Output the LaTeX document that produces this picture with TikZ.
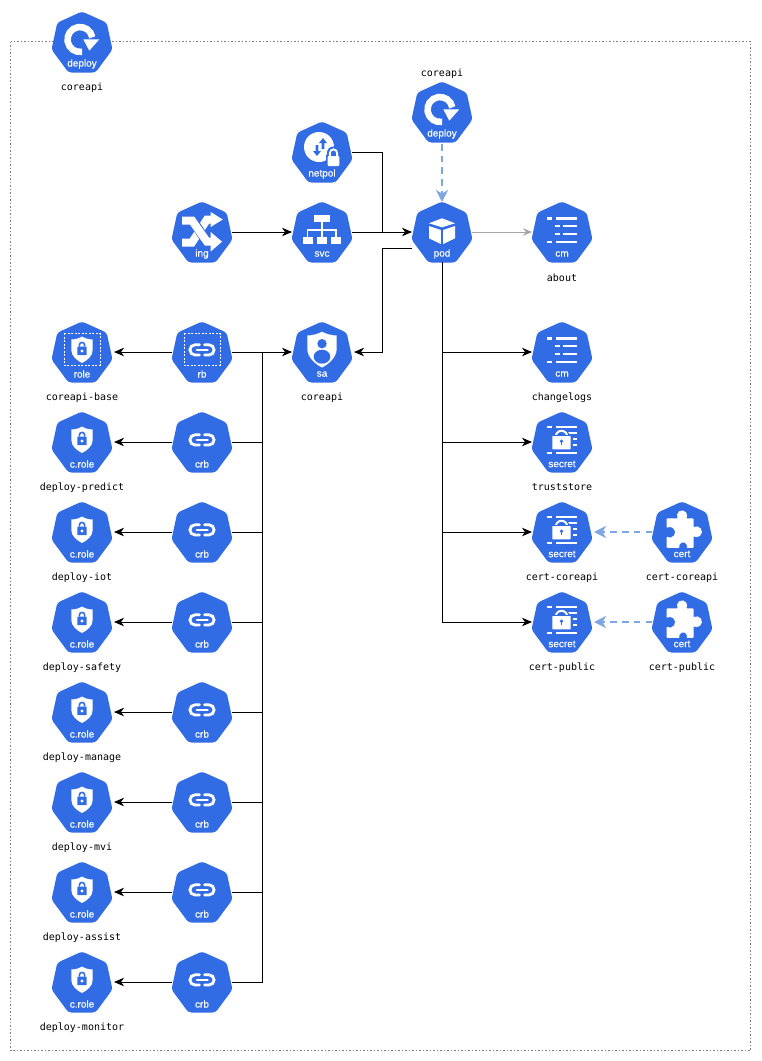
\documentclass[tikz,border=0pt]{standalone}
\usepackage{fontspec}
\setmainfont[FakeBold=0.25]{Liberation Sans}
\newfontfamily\lblfont{DejaVu Sans Mono}
\newfontfamily\kheavy[FakeBold=0.5]{Liberation Sans}
\usetikzlibrary{arrows.meta}
\definecolor{kblue}{HTML}{326CE5}
\definecolor{dashblue}{HTML}{7EA6E0}
\tikzset{
  kbase/.style={rectangle,minimum width=60pt,minimum height=60pt,inner sep=0pt,outer sep=0pt},
  klabel/.style={font=\lblfont\fontsize{10}{12}\selectfont,text=black,inner sep=0pt,yshift=-1.5pt},
  kicontext/.style={font=\fontsize{10}{12}\selectfont,text=white,inner sep=0pt},
  conn/.style={draw=black,line width=0.9pt,-{Stealth[length=10pt,width=8.5pt,inset=3pt]}},
  plainconn/.style={draw=black,line width=0.9pt},
  grayconn/.style={draw=gray!70,line width=0.9pt,-{Stealth[length=9pt,width=7.5pt,inset=3pt]}},
  dashconn/.style={draw=dashblue,line width=2pt,dash pattern=on 6.5pt off 5.2pt,-{Stealth[length=12pt,width=12pt,inset=3.5pt]}},
  frame/.style={draw=gray,line width=0.8pt,dash pattern=on 1.5pt off 2pt},
}
\newcommand{\icdeploy}{%
  \draw[white,line width=6.5pt] (0.17,9.8) arc[start angle=-80,end angle=-350,radius=12.5pt];
  \fill[white] (1.3,-2.7) -- (17.3,-2.7) -- (7.3,8.7) -- cycle;
}
\newcommand{\iclock}{%
  \draw[kblue,line width=1.6pt] (-2.6,-5.5) -- (-2.6,-7) arc[start angle=180,end angle=0,radius=2.6pt] -- (2.6,-5.5);
  \fill[kblue,rounded corners=0.5pt] (-4.7,-5.3) rectangle (4.7,3.2);
  \fill[white] (0,-1) circle (1.6pt);
}
\newcommand{\icshield}{%
  \fill[white] (0,-15.5) .. controls (3,-13.5) and (7,-12.5) .. (10.7,-12.5)
    -- (10.7,-2) .. controls (10.7,4) and (5,8.5) .. (0,11)
    .. controls (-5,8.5) and (-10.7,4) .. (-10.7,-2) -- (-10.7,-12.5)
    .. controls (-7,-12.5) and (-3,-13.5) .. (0,-15.5) -- cycle;
  \iclock
}
\newcommand{\icrole}{%
  \draw[white,line width=0.9pt,dash pattern=on 2pt off 1.5pt] (-18,-18.7) rectangle (18,13);
  \icshield
}
\newcommand{\iclink}{%
  \draw[white,line width=2.8pt,line cap=round] (-2.5,-7.2) -- (-7,-7.2) arc[start angle=90,end angle=270,radius=5.1pt] -- (-2.5,3);
  \draw[white,line width=2.8pt,line cap=round] (2.5,-7.2) -- (7,-7.2) arc[start angle=90,end angle=-90,radius=5.1pt] -- (2.5,3);
  \draw[white,line width=2.8pt,line cap=round] (-5,-2.1) -- (5.5,-2.1);
}
\newcommand{\icrb}{%
  \draw[white,line width=0.9pt,dash pattern=on 2pt off 1.5pt] (-18,-18.7) rectangle (18,13);
  \iclink
}
\newcommand{\icnetpol}{%
  \fill[white] (-3,-5) circle (15pt);
  \fill[kblue] (1,-14) -- (5,-9) -- (2.3,-9) -- (2.3,-3) -- (-0.3,-3) -- (-0.3,-9) -- (-3,-9) -- cycle;
  \fill[kblue] (-5,4) -- (-9,-1) -- (-6.3,-1) -- (-6.3,-7) -- (-3.7,-7) -- (-3.7,-1) -- (-1,-1) -- cycle;
  \fill[kblue] (11.5,1) circle (6.6pt);
  \fill[kblue,rounded corners=1pt] (4,2.3) rectangle (19,16);
  \draw[white,line width=1.9pt] (7.9,5) -- (7.9,1) arc[start angle=180,end angle=0,radius=3.6pt] -- (15.1,5);
  \fill[white,rounded corners=1pt] (5.7,4) rectangle (17.3,14);
}
\newcommand{\icing}{%
  \draw[white,line width=8pt,line join=miter] (-20,10.5) -- (-10,10.5) -- (5,-12.5) -- (11,-12.5);
  \draw[kblue,line width=9.5pt] (-8,-9.5) -- (3,7);
  \draw[white,line width=8pt,line join=miter] (-20,-11.5) -- (-10,-11.5) -- (5,9.7) -- (11,9.7);
  \fill[white] (8.7,-20) -- (20.7,-12.5) -- (8.7,-5) -- cycle;
  \fill[white] (8.7,0) -- (20,9.7) -- (8.7,19.5) -- cycle;
}
\newcommand{\icsvc}{%
  \fill[white] (-8,-17) rectangle (8,-9.7);
  \fill[white] (-19.3,5.3) rectangle (-9.3,12);
  \fill[white] (-5.3,5.3) rectangle (4.7,12);
  \fill[white] (8.7,5.3) rectangle (19.3,12);
  \draw[white,line width=1.2pt] (0,-9.7) -- (0,5.3) (-14.3,5.3) -- (-14.3,-2) -- (14,-2) -- (14,5.3);
}
\newcommand{\icpod}{%
  \fill[white] (0,-13.7) -- (13,-8.7) -- (0,-4.7) -- (-13,-8.7) -- cycle;
  \fill[white] (-13,-6) -- (-1.2,-2) -- (-1.2,12) -- (-13,6.3) -- cycle;
  \fill[white] (13,-6) -- (1.2,-2) -- (1.2,12) -- (13,6.3) -- cycle;
}
\newcommand{\iccm}{%
  \fill[white] (-14.7,-14.8) rectangle (-9.7,-12.5);
  \fill[white] (-6,-14.8) rectangle (14.7,-12.5);
  \fill[white] (-7,-7.1) rectangle (-2,-4.8);
  \fill[white] (1.3,-7.1) rectangle (14.7,-4.8);
  \fill[white] (-7,0.8) rectangle (-2,3.1);
  \fill[white] (1.3,0.8) rectangle (14.7,3.1);
  \fill[white] (-14.7,8.5) rectangle (-9.7,10.8);
  \fill[white] (-6,8.5) rectangle (14.7,10.8);
}
\newcommand{\icsecret}{%
  \fill[white] (-14.7,-16) rectangle (-9.7,-13.7);
  \fill[white] (-6,-16) rectangle (14.7,-13.7);
  \fill[white] (4,-10) rectangle (14.7,-7.9);
  \fill[white] (10.5,-3.8) rectangle (14.7,-2);
  \fill[white] (10.5,2.4) rectangle (14.7,4.2);
  \fill[white] (-6,9.5) rectangle (14.7,11.6);
  \fill[white] (-14.7,9.5) rectangle (-9.7,11.6);
  \draw[kblue,line width=4.5pt] (-6.2,-5.5) arc[start angle=180,end angle=0,radius=5.7pt];
  \draw[white,line width=2pt] (-6.2,-5.5) arc[start angle=180,end angle=0,radius=5.7pt];
  \fill[kblue] (-11.5,-7.5) rectangle (10.2,8.9);
  \draw[white,line width=2pt] (-6.2,-5) -- (-6.2,-6.5) (5.2,-5) -- (5.2,-6.5);
  \fill[white,rounded corners=0.6pt] (-9.7,-6) rectangle (8.7,7.3);
  \fill[kblue] (-0.5,-0.8) circle (1.9pt);
  \fill[kblue] (-1.4,-0.8) rectangle (0.4,2.8);
}
\newcommand{\iccert}{%
  \fill[white,rounded corners=0.8pt] (-15.3,-13.7) -- (-4,-13.7)
    arc[start angle=216,end angle=-36,radius=5pt] -- (11.5,-13.7) -- (11.5,-4.5)
    arc[start angle=127,end angle=-127,radius=5.3pt] -- (11.5,15.8) -- (4.5,15.8)
    arc[start angle=-27,end angle=207,radius=3.8pt] -- (-15.3,15.8) -- (-15.3,4.5)
    arc[start angle=233,end angle=487,radius=5.3pt] -- cycle;
}
\newcommand{\icsa}{%
  \fill[white] (0,-20.3) .. controls (4,-18) and (10,-16.5) .. (14.7,-16.5)
    -- (14.7,-3) .. controls (14.7,5) and (7,12) .. (0,15.5)
    .. controls (-7,12) and (-14.7,5) .. (-14.7,-3) -- (-14.7,-16.5)
    .. controls (-10,-16.5) and (-4,-18) .. (0,-20.3) -- cycle;
  \fill[kblue] (0,-8.3) circle (4.7pt);
  \fill[kblue] (0,4.7) ellipse (8.3pt and 7pt);
}
\newcommand{\kube}[5]{%
  \node[kbase] (#1) at (#2,#3) {};
  \begin{scope}[shift={(#2,#3)}]
    \fill[kblue,rounded corners=3pt] (0,-30.5) -- (24.7,-19.3) -- (30.5,7.5) -- (13.5,30.5) -- (-13.5,30.5) -- (-30.5,7.5) -- (-24.7,-19.3) -- cycle;
    #4
    \node[kicontext] (#1-kind) at (0,22) {#5};
  \end{scope}%
}
\begin{document}
\begin{tikzpicture}[x=1pt,y=-1pt]
\useasboundingbox (0,0) rectangle (761,1061);
\fill[white] (0,0) rectangle (761,1061);
\draw[frame] (10.5,41.5) rectangle (750.5,1050.5);

\kube{topdep}{82}{42}{\icdeploy}{\kheavy deploy}
\kube{dep}{442}{112}{\icdeploy}{\kheavy deploy}
\kube{netpol}{322}{152}{\icnetpol}{\kheavy netpol}
\kube{ing}{202}{232}{\icing}{\kheavy ing}
\kube{svc}{322}{232}{\icsvc}{svc}
\kube{pod}{442}{232}{\icpod}{\kheavy pod}
\kube{cmabout}{562}{232}{\iccm}{cm}
\kube{sa}{322}{352}{\icsa}{sa}
\kube{rb}{202}{352}{\icrb}{rb}
\kube{role}{82}{352}{\icrole}{role}
\kube{cmlogs}{562}{352}{\iccm}{cm}
\kube{sectrust}{562}{442}{\icsecret}{secret}
\kube{seccore}{562}{532}{\icsecret}{secret}
\kube{certcore}{682}{532}{\iccert}{cert}
\kube{secpub}{562}{622}{\icsecret}{secret}
\kube{certpub}{682}{622}{\iccert}{cert}

\kube{crba}{202}{442}{\iclink}{crb}
\kube{crbb}{202}{532}{\iclink}{crb}
\kube{crbc}{202}{622}{\iclink}{crb}
\kube{crbd}{202}{712}{\iclink}{crb}
\kube{crbe}{202}{802}{\iclink}{crb}
\kube{crbf}{202}{892}{\iclink}{crb}
\kube{crbg}{202}{982}{\iclink}{crb}
\kube{cra}{82}{442}{\icshield}{\kheavy c.role}
\kube{crb}{82}{532}{\icshield}{\kheavy c.role}
\kube{crc}{82}{622}{\icshield}{\kheavy c.role}
\kube{crd}{82}{712}{\icshield}{\kheavy c.role}
\kube{cre}{82}{802}{\icshield}{\kheavy c.role}
\kube{crf}{82}{892}{\icshield}{\kheavy c.role}
\kube{crg}{82}{982}{\icshield}{\kheavy c.role}

\node[klabel] (l1) at (82,86) {coreapi};
\node[klabel] (l2) at (442,72) {coreapi};
\node[klabel] (l3) at (562,276) {about};
\node[klabel] (l4) at (322,396) {coreapi};
\node[klabel] (l5) at (82,396) {coreapi-base};
\node[klabel] (l6) at (562,396) {changelogs};
\node[klabel] (l7) at (82,486) {deploy-predict};
\node[klabel] (l8) at (562,486) {truststore};
\node[klabel] (l9) at (82,576) {deploy-iot};
\node[klabel] (l10) at (562,576) {cert-coreapi};
\node[klabel] (l11) at (682,576) {cert-coreapi};
\node[klabel] (l12) at (82,666) {deploy-safety};
\node[klabel] (l13) at (562,666) {cert-public};
\node[klabel] (l14) at (682,666) {cert-public};
\node[klabel] (l15) at (82,756) {deploy-manage};
\node[klabel] (l16) at (82,846) {deploy-mvi};
\node[klabel] (l17) at (82,936) {deploy-assist};
\node[klabel] (l18) at (82,1026) {deploy-monitor};

\coordinate (podexit) at (412,248);
\coordinate (join) at (262,352);
\draw[conn] (ing.east) -- (svc.west);
\draw[conn] (svc.east) -- (pod.west);
\draw[plainconn] (netpol.east) -- ++(30,0) -- ++(0,80);
\draw[grayconn] (pod.east) -- (cmabout.west);
\draw[dashconn] (dep.south) ++(0,2) -- (pod.north);
\draw[conn,shorten >=2pt] (podexit) -- ++(-30,0) |- (sa.east);
\draw[conn] (pod.south) |- (cmlogs.west);
\draw[conn] (pod.south) |- (sectrust.west);
\draw[conn] (pod.south) |- (seccore.west);
\draw[conn] (pod.south) |- (secpub.west);
\draw[dashconn,shorten >=2pt] (certcore.west) -- (seccore.east);
\draw[dashconn,shorten >=2pt] (certpub.west) -- (secpub.east);
\draw[conn,shorten >=2pt] (rb.west) -- (role.east);
\draw[conn] (rb.east) -- (sa.west);
\foreach \a/\b in {crba/cra,crbb/crb,crbc/crc,crbd/crd,crbe/cre,crbf/crf,crbg/crg}{
  \draw[conn,shorten >=2pt] (\a.west) -- (\b.east);
  \draw[plainconn] (\a.east) -| (join);
}
\end{tikzpicture}
\end{document}
